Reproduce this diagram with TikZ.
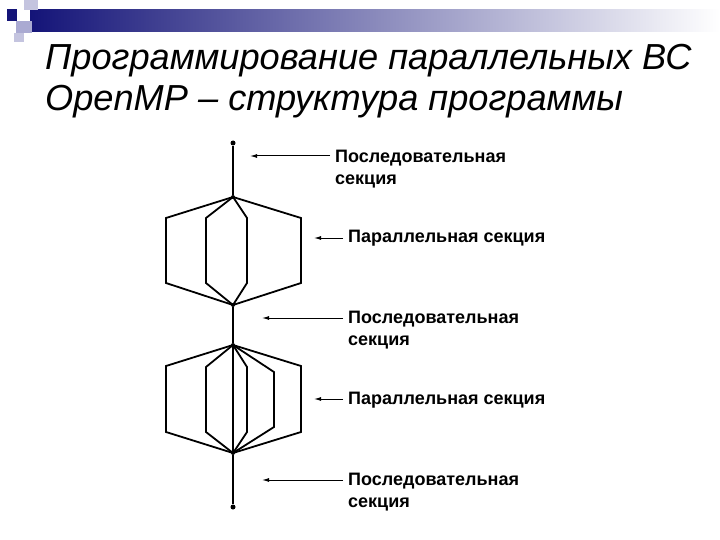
\documentclass[tikz,border=0pt]{standalone}
\usepackage{fontspec}
\setmainfont{Liberation Sans}
\usetikzlibrary{arrows.meta}
\begin{document}
\begin{tikzpicture}[x=1pt,y=-1pt,
  ln/.style={line width=1.8pt,line join=miter},
  arr/.style={line width=1pt,-{Latex[length=7pt,width=4pt]}},
  lbl/.style={anchor=north west,align=left,font=\fontsize{18}{22}\selectfont\bfseries,inner sep=0pt},
  dotn/.style={circle,fill,inner sep=0pt,minimum size=5pt}]
\useasboundingbox (0,0) rectangle (720,540);
\definecolor{navy}{RGB}{20,20,120}
\definecolor{lav}{RGB}{170,170,210}
\shade[left color=navy,right color=white] (30,10) rectangle (720,32);
\fill[lav!70] (24,0) rectangle (38,10);
\fill[lav] (16,21) rectangle (32,33);
\fill[lav!70] (14,33) rectangle (24,42);
\fill[navy] (7,9) rectangle (17,21);
\node[anchor=north west,inner sep=0pt,align=left,font=\fontsize{36.2}{41}\selectfont\itshape] (title) at (45,44) {Программирование параллельных ВС\\OpenMP – структура программы};
% nodes
\node[dotn] (t) at (233,143) {};
\node[dotn,minimum size=4pt] (a) at (233,197) {};
\node[dotn,minimum size=4pt] (b) at (233,305) {};
\node[dotn,minimum size=4pt] (c) at (233,345) {};
\node[dotn,minimum size=4pt] (d) at (233,453) {};
\node[dotn] (e) at (233,507) {};
\draw[ln] (t) -- (a);
\draw[ln] (b) -- (c);
\draw[ln] (d) -- (e);
\draw[ln] (a.center) -- (166,218) -- (166,283) -- (b.center) -- (301,283) -- (301,218) -- cycle;
\draw[ln] (a.center) -- (206,218) -- (206,283) -- (b.center) -- (247,283) -- (247,218) -- cycle;
\draw[ln] (c.center) -- (166,366) -- (166,432) -- (d.center) -- (301,432) -- (301,366) -- cycle;
\draw[ln] (c.center) -- (206,367) -- (206,432) -- (d.center) -- (247,432) -- (247,367) -- cycle;
\draw[ln] (c.center) -- (274,372) -- (274,427) -- (d.center);
\draw[ln] (c) -- (d);
% labels
\node[lbl] (l1) at (335,150) {Последовательная\\секция};
\node[lbl] (l2) at (348,230) {Параллельная секция};
\node[lbl] (l3) at (348,311) {Последовательная\\секция};
\node[lbl] (l4) at (348,392) {Параллельная секция};
\node[lbl] (l5) at (348,473) {Последовательная\\секция};
\coordinate (p1) at (250,156);
\coordinate (p2) at (314,238);
\coordinate (p3) at (262,318);
\coordinate (p4) at (314,399);
\coordinate (p5) at (262,480);
\draw[arr] (330,156) -- (p1);
\draw[arr] (343,238) -- (p2);
\draw[arr] (343,318) -- (p3);
\draw[arr] (343,399) -- (p4);
\draw[arr] (343,480) -- (p5);
\end{tikzpicture}
\end{document}
